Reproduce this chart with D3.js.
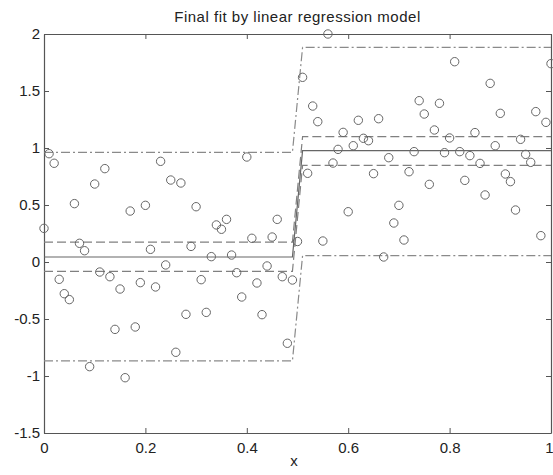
<!DOCTYPE html>
<html lang="en">
<head>
    <meta charset="UTF-8">
    <title>Final fit by linear regression model</title>
    <script src="https://cdn.jsdelivr.net/npm/d3@7"></script>
    <style>
        body { margin: 0; background: #fff; }
        text { font-family: "Liberation Sans", Arial, Helvetica, sans-serif; fill: #222; }
    </style>
</head>
<body>
<svg width="553" height="475"></svg>
<script type="text/javascript">
    // observed samples
    var xValues = [0, 0.01, 0.02, 0.03, 0.04, 0.05, 0.06, 0.07, 0.08, 0.09,
        0.10, 0.11, 0.12, 0.13, 0.14, 0.15, 0.16, 0.17, 0.18, 0.19,
        0.20, 0.21, 0.22, 0.23, 0.24, 0.25, 0.26, 0.27, 0.28, 0.29,
        0.30, 0.31, 0.32, 0.33, 0.34, 0.35, 0.36, 0.37, 0.38, 0.39,
        0.40, 0.41, 0.42, 0.43, 0.44, 0.45, 0.46, 0.47, 0.48, 0.49,
        0.50, 0.51, 0.52, 0.53, 0.54, 0.55, 0.56, 0.57, 0.58, 0.59,
        0.60, 0.61, 0.62, 0.63, 0.64, 0.65, 0.66, 0.67, 0.68, 0.69,
        0.70, 0.71, 0.72, 0.73, 0.74, 0.75, 0.76, 0.77, 0.78, 0.79,
        0.80, 0.81, 0.82, 0.83, 0.84, 0.85, 0.86, 0.87, 0.88, 0.89,
        0.90, 0.91, 0.92, 0.93, 0.94, 0.95, 0.96, 0.97, 0.98, 0.99, 1.00];
    var yValues = [0.295, 0.95, 0.866, -0.152, -0.278, -0.33, 0.512, 0.164, 0.099, -0.918,
        0.684, -0.088, 0.819, -0.129, -0.591, -0.237, -1.015, 0.447, -0.57, -0.181,
        0.497, 0.111, -0.219, 0.883, -0.026, 0.719, -0.792, 0.693, -0.459, 0.137,
        0.485, -0.155, -0.442, 0.047, 0.325, 0.287, 0.374, 0.061, -0.094, -0.307,
        0.921, 0.208, -0.184, -0.462, -0.035, 0.219, 0.374, -0.129, -0.713, -0.158,
        0.18, 1.62, 0.778, 1.368, 1.231, 0.184, 2.0, 0.868, 0.988, 1.137,
        0.441, 1.02, 1.243, 1.085, 1.064, 0.775, 1.257, 0.044, 0.915, 0.342,
        0.497, 0.193, 0.792, 0.968, 1.415, 1.298, 0.681, 1.158, 1.392, 0.959,
        1.088, 1.757, 0.968, 0.716, 0.933, 1.135, 0.865, 0.588, 1.567, 1.02,
        1.304, 0.772, 0.705, 0.456, 1.076, 0.944, 0.874, 1.319, 0.231, 1.225, 1.74];

    // fitted model and bands
    var fitX = [0, 0.49, 0.51, 1];
    var fitY = [0.044, 0.044, 0.977, 0.977];
    var innerUpper = [0.175, 0.175, 1.099, 1.099];
    var innerLower = [-0.082, -0.082, 0.848, 0.848];
    var outerUpper = [0.962, 0.962, 1.883, 1.883];
    var outerLower = [-0.868, -0.868, 0.056, 0.056];

    var xTicks = [0, 0.2, 0.4, 0.6, 0.8, 1];
    var yTicks = [-1.5, -1, -0.5, 0, 0.5, 1, 1.5, 2];

    var svg = d3.select("svg");
    var plotLeft = 44, plotRight = 551, plotTop = 34, plotBottom = 433;

    var x = d3.scaleLinear().domain([0, 1]).range([plotLeft, plotRight]);
    var y = d3.scaleLinear().domain([-1.5, 2]).range([plotBottom, plotTop]);

    var fmt = function (d) { return String(d); };

    // axes (box with inward ticks)
    var gx = svg.append("g").attr("transform", "translate(0," + plotBottom + ")")
        .call(d3.axisBottom(x).tickValues(xTicks).tickFormat(fmt).tickSizeInner(-5).tickSizeOuter(0).tickPadding(9));
    var gy = svg.append("g").attr("transform", "translate(" + plotLeft + ",0)")
        .call(d3.axisLeft(y).tickValues(yTicks).tickFormat(fmt).tickSizeInner(-5).tickSizeOuter(0).tickPadding(4));
    var gt = svg.append("g").attr("transform", "translate(0," + plotTop + ")")
        .call(d3.axisTop(x).tickValues(xTicks).tickFormat("").tickSizeInner(-5).tickSizeOuter(0));
    var gr = svg.append("g").attr("transform", "translate(" + plotRight + ",0)")
        .call(d3.axisRight(y).tickValues(yTicks).tickFormat("").tickSizeInner(-5).tickSizeOuter(0));

    [gx, gy, gt, gr].forEach(function (g) {
        g.select(".domain").attr("stroke", "#555").attr("stroke-width", 1.2);
        g.selectAll(".tick line").attr("stroke", "#555");
        g.selectAll("text").style("font-size", "15px").attr("fill", "#222");
    });
    // keep the last x label inside the window
    gx.selectAll(".tick text").filter(function (d) { return d === 1; }).attr("dx", -2);

    // fit lines
    function bandLine(vals) {
        return d3.line()
            .x(function (d, i) { return x(fitX[i]); })
            .y(function (d) { return y(d); })(vals);
    }
    var lines = [
        { vals: outerUpper, dash: "9,3,2,3", color: "#8a8a8a" },
        { vals: outerLower, dash: "9,3,2,3", color: "#8a8a8a" },
        { vals: innerUpper, dash: "9,4", color: "#808080" },
        { vals: innerLower, dash: "9,4", color: "#808080" },
        { vals: fitY, dash: null, color: "#666" }
    ];
    svg.selectAll("path.fit")
        .data(lines)
        .enter()
        .append("path")
        .attr("class", "fit")
        .attr("d", function (d) { return bandLine(d.vals); })
        .attr("fill", "none")
        .attr("stroke", function (d) { return d.color; })
        .attr("stroke-width", 1.2)
        .attr("stroke-dasharray", function (d) { return d.dash; });

    // data circles
    svg.selectAll("circle")
        .data(yValues)
        .enter()
        .append("circle")
        .attr("cx", function (d, i) { return x(xValues[i]); })
        .attr("cy", function (d) { return y(d); })
        .attr("r", 4.2)
        .attr("fill", "none")
        .attr("stroke", "#666")
        .attr("stroke-width", 1);

    // title and label
    svg.append("text")
        .attr("x", (plotLeft + plotRight) / 2)
        .attr("y", 22)
        .attr("text-anchor", "middle")
        .style("font-size", "15px")
        .style("letter-spacing", "0.5px")
        .text("Final fit by linear regression model");

    svg.append("text")
        .attr("x", 294)
        .attr("y", 466)
        .attr("text-anchor", "middle")
        .style("font-size", "15px")
        .text("x");
</script>
</body>
</html>
